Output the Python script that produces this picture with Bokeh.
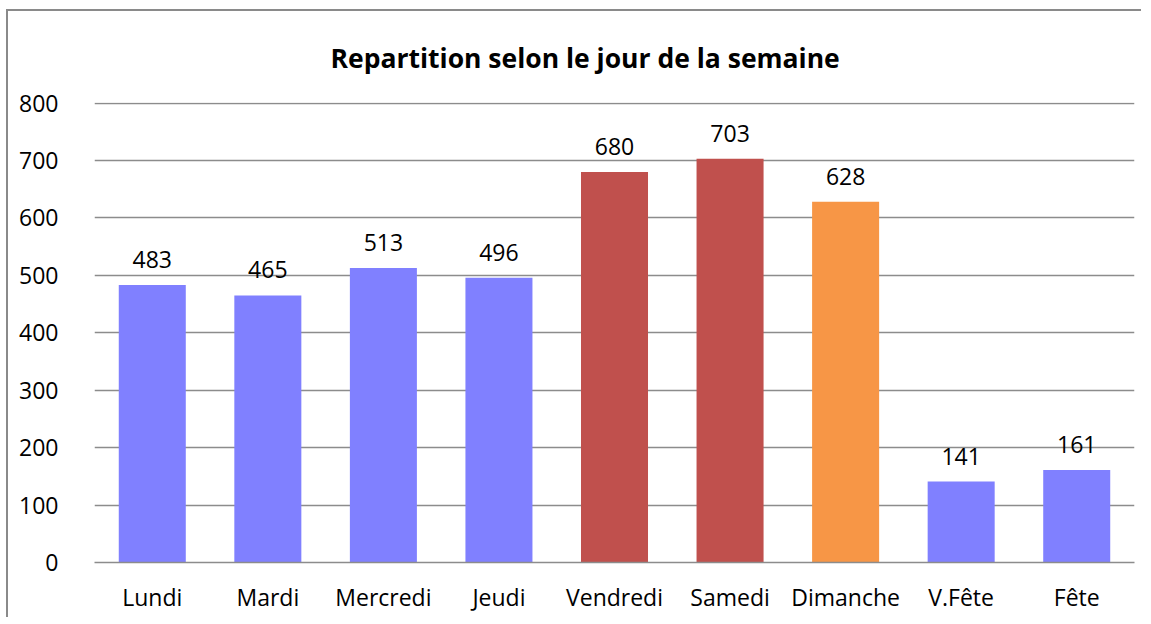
from bokeh.plotting import figure
from bokeh.models import ColumnDataSource, LabelSet, FactorRange, Range1d, SingleIntervalTicker
from bokeh.core.properties import value
from bokeh.embed import file_html
from bokeh.resources import INLINE

days = ["Lundi", "Mardi", "Mercredi", "Jeudi", "Vendredi", "Samedi", "Dimanche", "V.Fête", "Fête"]
counts = [483, 465, 513, 496, 680, 703, 628, 141, 161]
day_type = ["semaine", "semaine", "semaine", "semaine", "weekend", "weekend", "dimanche", "fete", "fete"]

palette = {"semaine": "#8080FF", "weekend": "#C0504D", "dimanche": "#F79646", "fete": "#8080FF"}
colors = [palette[t] for t in day_type]

src = ColumnDataSource(dict(day=days, count=counts, color=colors, label=[str(c) for c in counts]))

FONT = "Open Sans"
W, H = 1135, 608
ML, MR, MT, MB = 86, 9, 91, 57

p = figure(x_range=FactorRange(*days, range_padding=0), y_range=Range1d(0, 801),
           width=W, height=H, output_backend="svg", toolbar_location=None,
           min_border_left=ML, min_border_right=MR, min_border_top=MT, min_border_bottom=MB,
           title="Repartition selon le jour de la semaine")
p.styles = {"border-left": "2px solid #8a8a8a", "border-top": "2px solid #8a8a8a",
            "position": "relative", "left": "6px", "top": "9px"}

p.title.align = "left"
p.title.offset = 236
p.title.text_font = FONT
p.title.text_font_style = "bold"
p.title.text_font_size = "26.5px"
p.title.text_color = "#000000"
p.title.standoff = 53

p.vbar(x="day", top="count", width=0.58, color="color", source=src, line_color=None)

labels = LabelSet(x="day", y="count", text="label", source=src, text_align="center",
                  text_baseline="bottom", y_offset=17, text_font=value(FONT), text_font_size="23px",
                  text_color="#000000")
p.add_layout(labels)

p.outline_line_color = None
p.background_fill_color = "white"
p.border_fill_color = "white"

p.xgrid.grid_line_color = None
p.ygrid.grid_line_color = "#8c8c8c"
p.ygrid.grid_line_width = 1.5
p.yaxis.ticker = SingleIntervalTicker(interval=100)

p.yaxis.axis_line_color = None
p.yaxis.major_tick_line_color = None
p.yaxis.minor_tick_line_color = None
p.yaxis.major_tick_out = 0
p.yaxis.major_label_standoff = 32
p.yaxis.major_label_text_font = FONT
p.yaxis.major_label_text_font_size = "23px"
p.yaxis.major_label_text_color = "#000000"

p.xaxis.axis_line_color = "#8c8c8c"
p.xaxis.axis_line_width = 1.5
p.xaxis.major_tick_line_color = None
p.xaxis.minor_tick_line_color = None
p.xaxis.major_tick_out = 0
p.xaxis.major_label_standoff = 18
p.xaxis.major_label_text_font = FONT
p.xaxis.major_label_text_font_size = "23px"
p.xaxis.major_label_text_color = "#000000"

open("out.html", "w").write(file_html(p, INLINE))
